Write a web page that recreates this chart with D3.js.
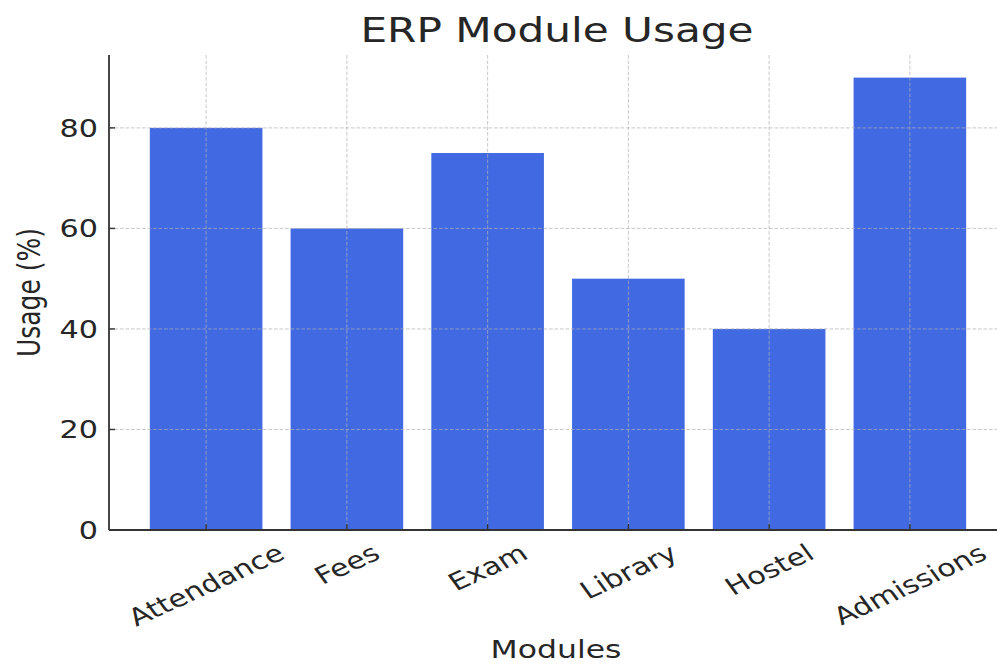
<!DOCTYPE html>
<html>
<head>
<meta charset="utf-8">
<script src="https://cdn.jsdelivr.net/npm/d3@7"></script>
<style>
  html, body { margin: 0; padding: 0; background: #ffffff; }
  svg { display: block; font-family: "DejaVu Sans", sans-serif; }
</style>
</head>
<body>
<svg id="chart" width="997" height="664"></svg>
<script>
// Module usage data
const modules = ["Attendance", "Fees", "Exam", "Library", "Hostel", "Admissions"];
const usage = [80, 60, 75, 50, 40, 90];
const yTicks = [0, 20, 40, 60, 80];

const titleText = "ERP Module Usage";
const xLabelText = "Modules";
const yLabelText = "Usage (%)";

// Horizontal stretch applied to all text glyphs
const sx = 1.26;

const svg = d3.select("#chart");
const plot = { left: 109, right: 1007, top: 55, bottom: 530 };

const x = d3.scaleBand()
  .domain(modules)
  .range([plot.left, plot.right])
  .paddingInner(0.2)
  .paddingOuter(0.29);

const y = d3.scaleLinear()
  .domain([0, d3.max(usage) * 1.05])
  .range([plot.bottom, plot.top]);

const data = modules.map((m, i) => ({ module: m, value: usage[i] }));
const textColor = "#262626";

// Bars
svg.append("g")
  .selectAll("rect")
  .data(data)
  .join("rect")
  .attr("x", d => x(d.module))
  .attr("y", d => y(d.value))
  .attr("width", x.bandwidth())
  .attr("height", d => y(0) - y(d.value))
  .attr("fill", "#4169e1");

// Dashed grid drawn over the bars
const grid = svg.append("g")
  .attr("stroke", "#b0b0b0")
  .attr("stroke-opacity", 0.7)
  .attr("stroke-width", 1)
  .attr("stroke-dasharray", "3.7,1.8");

grid.selectAll("line.v")
  .data(modules)
  .join("line")
  .attr("class", "v")
  .attr("x1", d => x(d) + x.bandwidth() / 2)
  .attr("x2", d => x(d) + x.bandwidth() / 2)
  .attr("y1", y.range()[1])
  .attr("y2", y.range()[0]);

grid.selectAll("line.h")
  .data(yTicks.filter(t => t > 0))
  .join("line")
  .attr("class", "h")
  .attr("x1", plot.left)
  .attr("x2", plot.right)
  .attr("y1", d => y(d))
  .attr("y2", d => y(d));

// Inward ticks
const ticks = svg.append("g").attr("stroke", "#333").attr("stroke-width", 1.4);
ticks.selectAll("line.yt")
  .data(yTicks)
  .join("line")
  .attr("class", "yt")
  .attr("x1", plot.left).attr("x2", plot.left + 6)
  .attr("y1", d => y(d)).attr("y2", d => y(d));
ticks.selectAll("line.xt")
  .data(modules)
  .join("line")
  .attr("class", "xt")
  .attr("x1", d => x(d) + x.bandwidth() / 2)
  .attr("x2", d => x(d) + x.bandwidth() / 2)
  .attr("y1", plot.bottom).attr("y2", plot.bottom - 6);

// Spines (left and bottom)
svg.append("line")
  .attr("x1", plot.left).attr("x2", plot.left)
  .attr("y1", y.range()[1]).attr("y2", plot.bottom)
  .attr("stroke", "#333").attr("stroke-width", 1.8);
svg.append("line")
  .attr("x1", plot.left).attr("x2", plot.right)
  .attr("y1", plot.bottom).attr("y2", plot.bottom)
  .attr("stroke", "#333").attr("stroke-width", 1.8);

// Y tick labels
svg.append("g")
  .selectAll("text")
  .data(yTicks)
  .join("text")
  .attr("transform", d => `translate(98,${y(d) + 8.7}) scale(${sx},1)`)
  .attr("text-anchor", "end")
  .attr("font-size", 24)
  .attr("fill", textColor)
  .text(d => d);

// X tick labels, rotated 30 degrees and centred under each bar
const xLabels = svg.append("g")
  .selectAll("text")
  .data(modules)
  .join("text")
  .attr("text-anchor", "middle")
  .attr("dy", "0.35em")
  .attr("font-size", 24)
  .attr("fill", textColor)
  .text(d => d);

xLabels.attr("transform", function(d) {
  const L = this.getComputedTextLength();
  const capH = 0.73 * 24;
  const h = L * 0.5 + capH * 0.866;
  const cx = x(d) + x.bandwidth() / 2;
  const cy = plot.bottom + 13 + h / 2;
  return `translate(${cx},${cy}) scale(${sx},1) rotate(-30)`;
});

// Axis titles
svg.append("text")
  .attr("transform", `translate(556,658) scale(${sx},1)`)
  .attr("text-anchor", "middle")
  .attr("font-size", 25)
  .attr("fill", textColor)
  .text(xLabelText);

svg.append("text")
  .attr("transform", `translate(40,${(y.range()[1] + plot.bottom) / 2}) scale(${sx},1) rotate(-90)`)
  .attr("text-anchor", "middle")
  .attr("font-size", 25)
  .attr("fill", textColor)
  .text(yLabelText);

// Chart title
svg.append("text")
  .attr("transform", `translate(557,42) scale(${sx},1)`)
  .attr("text-anchor", "middle")
  .attr("font-size", 33.5)
  .attr("fill", textColor)
  .text(titleText);
</script>
</body>
</html>
